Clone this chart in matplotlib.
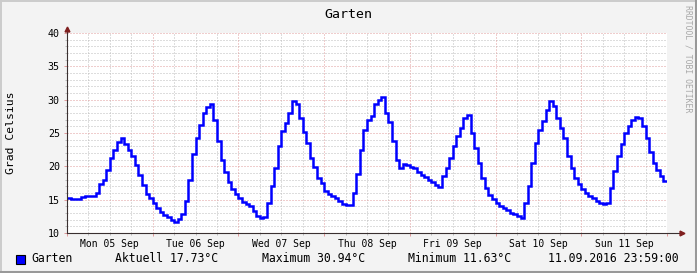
import matplotlib
matplotlib.use("Agg")
import matplotlib.pyplot as plt
from matplotlib.lines import Line2D
from matplotlib.patches import Rectangle
import numpy as np

# Hourly temperatures (deg C), one list per day
MON = [15.2, 15.15, 15.15, 15.15, 15.4, 15.5, 15.55, 15.6, 16.0, 17.3, 18.0, 19.5,
       21.2, 22.4, 23.6, 24.3, 23.3, 22.5, 21.5, 20.2, 18.7, 17.2, 15.9, 15.2]
TUE = [14.5, 13.8, 13.2, 12.7, 12.4, 12.0, 11.63, 12.1, 12.8, 14.8, 18.0, 21.8,
       24.3, 26.2, 28.0, 28.9, 29.3, 27.0, 23.8, 21.0, 19.2, 17.6, 16.6, 15.8]
WED = [15.2, 14.7, 14.35, 14.0, 13.3, 12.6, 12.3, 12.4, 14.5, 17.0, 19.8, 23.0,
       25.3, 26.5, 28.0, 29.8, 29.4, 27.2, 25.2, 23.5, 21.3, 19.9, 18.2, 17.5]
THU = [16.3, 15.8, 15.5, 15.25, 14.85, 14.4, 14.25, 14.15, 16.0, 18.8, 22.5, 25.5,
       27.0, 27.5, 29.3, 30.0, 30.4, 28.0, 26.6, 23.8, 21.0, 19.8, 20.3, 20.15]
FRI = [19.85, 19.75, 19.15, 18.65, 18.35, 18.0, 17.6, 17.15, 16.9, 18.5, 19.8, 21.3,
       23.0, 24.5, 25.8, 27.3, 27.75, 25.0, 22.8, 20.5, 18.3, 16.7, 15.7, 15.1]
SAT = [14.5, 14.1, 13.8, 13.4, 13.05, 12.8, 12.5, 12.25, 14.5, 17.0, 20.5, 23.5,
       25.5, 26.8, 28.5, 29.8, 29.0, 27.3, 25.8, 24.2, 21.5, 19.8, 18.3, 17.3]
SUN = [16.6, 16.0, 15.6, 15.2, 14.75, 14.5, 14.4, 14.5, 16.8, 19.3, 21.5, 23.3,
       25.0, 26.0, 27.0, 27.4, 27.2, 26.0, 24.3, 22.2, 20.5, 19.4, 18.5, 17.73]

DAY_LABELS = ["Mon 05 Sep", "Tue 06 Sep", "Wed 07 Sep", "Thu 08 Sep",
              "Fri 09 Sep", "Sat 10 Sep", "Sun 11 Sep"]
Y_TICKS = [10, 15, 20, 25, 30, 35, 40]

TITLE = "Garten"
SERIES = "Garten"
AKTUELL = "Aktuell 17.73°C"
MAXIMUM = "Maximum 30.94°C"
MINIMUM = "Minimum 11.63°C"
STAMP = "11.09.2016 23:59:00"
WATERMARK = "RRDTOOL / TOBI OETIKER"

W, H = 697, 273
BACK = "#F3F3F3"
MGRID = "#E09C9C"
GRID = "#BDBDBD"
ARROW = "#7F1F1F"
AXIS = "#3A3030"

plt.rcParams["font.family"] = ["DejaVu Sans Mono"]

fig = plt.figure(figsize=(W / 100, H / 100), dpi=100)
fig.patch.set_facecolor(BACK)


def fx(px):
    return px / W


def fy(py):
    return 1 - py / H


# plot area 600 x 200 px
ax = fig.add_axes([fx(67), fy(233), 600 / W, 200 / H])
ax.set_facecolor("white")

temps = np.array(MON + TUE + WED + THU + FRI + SAT + SUN)
hours = np.arange(len(temps) + 1)
ax.plot(hours, np.append(temps, temps[-1]), drawstyle="steps-post",
        color="#0000FF", linewidth=1.8, zorder=5, solid_joinstyle="miter")

ax.set_xlim(0, 168)
ax.set_ylim(10, 40)

# grid
major_x = np.arange(0, 169, 24)
minor_x = [h for h in range(6, 168, 6) if h % 24 != 0]
ax.set_xticks(major_x, labels=[""] * len(major_x))
minor_labels = [DAY_LABELS[h // 24] if h % 24 == 12 else "" for h in minor_x]
ax.set_xticks(minor_x, labels=minor_labels, minor=True)

minor_y = [v for v in range(11, 40) if v % 5 != 0]
ax.set_yticks(Y_TICKS, labels=[str(v) for v in Y_TICKS])
ax.set_yticks(minor_y, minor=True)

for v in minor_y:
    ax.axhline(v, color=GRID, linewidth=0.72, linestyle=(0, (1, 2)), zorder=1)
for h in minor_x:
    ax.axvline(h, color=GRID, linewidth=0.72, linestyle=(0, (1, 2)), zorder=1)
for v in Y_TICKS[1:]:
    ax.axhline(v, color=MGRID, linewidth=0.72, linestyle=(0, (1, 2)), zorder=2)
for h in major_x[1:-1]:
    ax.axvline(h, color=MGRID, linewidth=0.72, linestyle=(0, (1, 2)), zorder=2)

ax.tick_params(axis="x", which="major", length=2.2, color=MGRID, width=0.72)
ax.tick_params(axis="x", which="minor", length=1.5, color=GRID, width=0.72,
               labelsize=7, pad=2.5)
ax.tick_params(axis="y", which="major", length=2.2, color=MGRID, width=0.72,
               labelsize=7.2, pad=3)
ax.tick_params(axis="y", which="minor", length=1.5, color=GRID, width=0.72)

for s in ax.spines.values():
    s.set_visible(False)

# axes with arrows
ax.plot([0, 0], [0, 1.02], transform=ax.transAxes, color=AXIS,
        linewidth=0.8, clip_on=False, zorder=6)
ax.plot([0, 1.025], [0, 0], transform=ax.transAxes, color=AXIS,
        linewidth=0.8, clip_on=False, zorder=6)
ax.plot([0], [1.02], transform=ax.transAxes, marker="^", markersize=3.5,
        color=ARROW, clip_on=False, zorder=7)
ax.plot([1.025], [0], transform=ax.transAxes, marker=">", markersize=3.5,
        color=ARROW, clip_on=False, zorder=7)

# texts
fig.text(fx(348), fy(14), TITLE, ha="center", va="center", fontsize=9.5)
fig.text(fx(11), fy(133), "Grad Celsius", rotation=90, ha="center",
         va="center", fontsize=8.2)
fig.text(fx(688), fy(5), WATERMARK, rotation=270, ha="center", va="top",
         fontsize=5.9, color="#A8A8A8")

# legend line
fig.add_artist(Rectangle((fx(15.5), fy(263.5)), 9 / W, 9 / H,
                         facecolor="#0000FF", edgecolor="black",
                         linewidth=0.8))
ly = fy(259)
fig.text(fx(31), ly, SERIES, ha="left", va="center", fontsize=8.3)
fig.text(fx(115), ly, AKTUELL, ha="left", va="center", fontsize=8.3)
fig.text(fx(262), ly, MAXIMUM, ha="left", va="center", fontsize=8.3)
fig.text(fx(408), ly, MINIMUM, ha="left", va="center", fontsize=8.3)
fig.text(fx(548), ly, STAMP, ha="left", va="center", fontsize=8.3)

# frame shading
fig.add_artist(Line2D([0, 1], [fy(0.5), fy(0.5)], color="#CBCBCB", linewidth=1.4))
fig.add_artist(Line2D([fx(0.5), fx(0.5)], [0, 1], color="#CBCBCB", linewidth=1.4))
fig.add_artist(Line2D([0, 1], [fy(271.5), fy(271.5)], color="#999999", linewidth=2.2))
fig.add_artist(Line2D([fx(695.5), fx(695.5)], [0, 1], color="#999999", linewidth=2.2))

fig.savefig("out.png", dpi=100, facecolor=BACK)
